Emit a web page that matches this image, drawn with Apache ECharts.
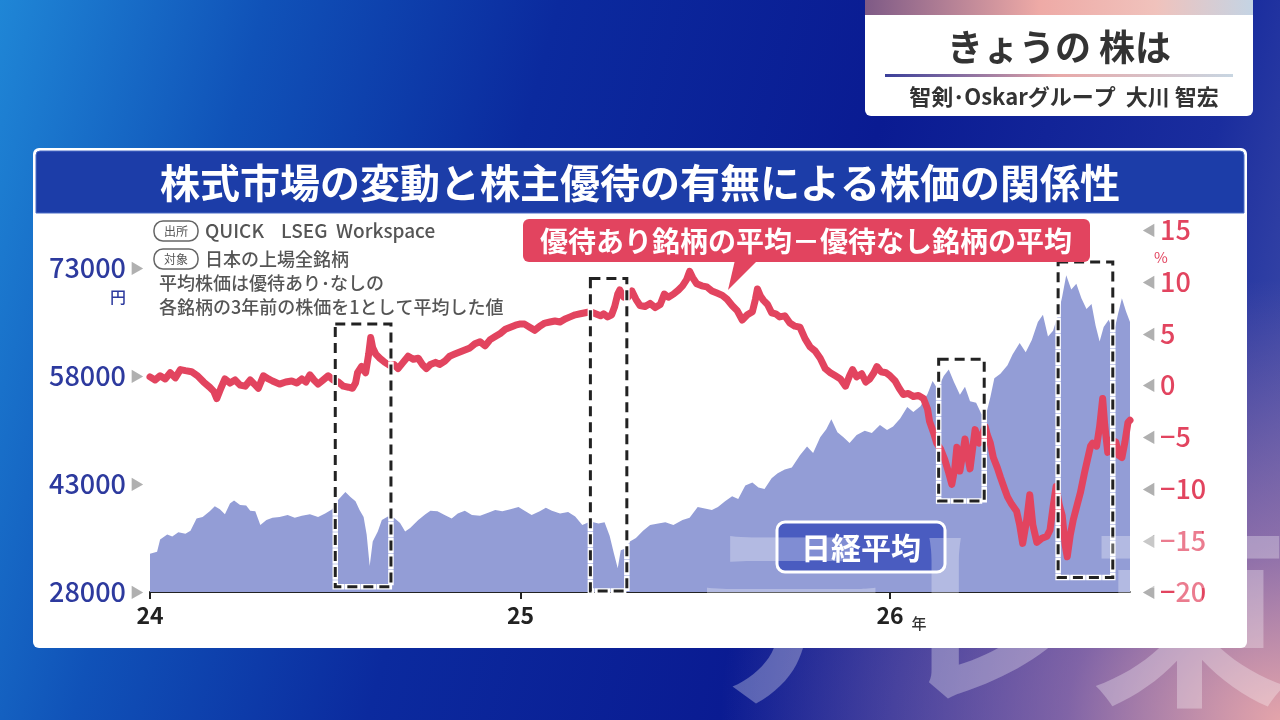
<!DOCTYPE html>
<html>
<head>
<meta charset="utf-8">
<script src="https://cdn.jsdelivr.net/npm/echarts@6/dist/echarts.min.js"></script>
<style>
html,body{margin:0;padding:0;width:1280px;height:720px;overflow:hidden;}
body{
  background:
    radial-gradient(ellipse 560px 440px at 100% 100%, rgba(236,168,170,0.95) 0%, rgba(196,136,172,0.6) 38%, rgba(120,100,185,0) 100%),
    linear-gradient(105deg, #1f86d6 0%, #1052b8 18%, #0b2a9e 38%, #0a1b92 62%, #1a2d9e 85%, #4b56ab 100%);
}
#chart{width:1280px;height:720px;}
</style>
</head>
<body>
<div id="chart"></div>
<script>
// ---- data (x = days since 2024-01-01) ----
const xTickDays = [0, 366, 731];
const xTickLabels = ['24', '25', '26'];
const leftTicks = [28000, 43000, 58000, 73000];

const nikkeiDay = [0,7,10,17,22,28,35,40,46,52,59,64,69,74,79,83,89,95,99,104,109,115,121,128,136,143,150,158,166,173,180,186,193,198,203,207,211,214,217,220,225,229,235,241,247,252,257,265,272,277,284,291,298,304,311,318,326,334,341,348,356,364,370,377,385,391,397,405,413,420,427,435,443,449,454,458,462,465,469,474,480,487,494,502,509,517,526,533,541,548,555,561,568,575,581,588,595,601,607,614,620,627,634,642,649,655,662,668,673,679,685,691,698,706,713,721,728,734,741,748,754,761,768,773,778,784,789,794,800,805,810,816,821,825,830,834,840,847,852,859,865,871,877,882,887,892,897,901,905,910,915,920,925,930,934,938,942,947,952,956,960,964,968];
const nikkeiValue = [33300,33600,35300,36000,35700,36300,36100,36500,38200,38400,39200,39900,39500,38800,40300,40700,40100,40000,39300,39200,37300,38000,38300,38400,38700,38300,38600,38800,38400,38900,39500,40800,41900,41200,40600,39400,38400,36000,31600,35000,36400,38000,38500,38300,37600,36400,36900,38000,38800,39300,39200,38700,38200,38900,39300,38700,38600,39000,39400,39200,39500,39800,39300,38700,39200,39700,39300,38900,39100,38500,37300,37800,37500,37700,35800,33500,31300,33800,34000,35000,35500,36500,37300,37500,37700,37300,38000,38300,39800,39600,39400,39800,40600,41300,40900,42800,43200,42500,42300,43800,44500,45000,45300,47000,48200,47300,49500,50600,52000,50200,49500,48700,49800,50400,50100,51200,50500,51000,52100,53700,53000,53800,55500,57300,56200,58000,58900,57200,55400,56500,54500,54300,52800,52200,55000,57700,58300,59500,61000,62600,61300,63000,65500,66500,63500,64300,66500,69000,72000,70000,70800,68800,67300,68000,65000,62800,64800,65800,64000,66500,68800,67000,65500];

const spreadDay = [0,5,10,15,20,25,30,35,41,47,53,59,63,66,70,74,79,84,89,94,99,104,107,112,117,121,128,134,140,145,150,154,158,162,166,171,176,181,186,191,196,200,203,205,209,213,216,218,220,223,227,232,237,241,245,250,255,260,265,269,273,277,282,286,291,296,301,306,311,316,321,326,331,336,341,346,351,356,361,365,370,375,380,385,390,395,400,405,410,415,420,425,430,435,440,445,448,452,456,459,462,464,468,472,476,480,484,489,494,499,504,508,512,517,522,526,530,533,536,540,545,550,555,560,565,570,575,580,585,590,595,598,600,603,606,610,614,618,622,627,632,637,642,647,652,657,662,667,672,677,682,687,691,694,698,703,707,711,715,718,722,727,731,736,740,744,749,754,759,764,768,770,774,777,781,785,789,792,795,797,800,803,805,808,810,813,815,819,822,825,827,830,833,837,840,844,847,851,856,859,862,866,869,872,876,881,886,889,892,895,898,901,904,906,909,912,916,919,923,926,929,931,935,938,941,943,946,949,954,957,960,963,966,968];
const spreadValue = [0.8,0.5,0.9,0.6,1.2,0.7,1.5,1.4,1.3,0.9,0.3,-0.2,-0.6,-1.3,-0.3,0.6,0.2,0.5,0.0,-0.1,0.5,0.0,-0.3,0.9,0.6,0.4,0.1,0.3,0.4,0.2,0.6,0.3,1.0,0.5,0.1,0.5,0.9,0.5,0.3,-0.1,-0.2,-0.3,0.2,1.2,1.8,1.2,3.0,4.6,3.6,3.0,2.6,2.2,1.9,2.0,1.6,2.2,2.8,2.5,2.6,2.0,1.6,2.0,2.2,2.0,2.3,2.8,3.0,3.2,3.4,3.6,4.0,4.2,3.8,4.4,4.7,5.0,5.4,5.6,5.8,5.9,5.9,5.6,5.3,5.7,6.0,6.1,6.2,6.1,6.4,6.6,6.8,6.9,7.0,7.1,6.9,6.7,6.9,6.6,6.8,7.6,8.8,9.2,8.5,8.5,9.1,8.3,7.7,7.6,7.9,7.5,7.8,8.8,8.5,8.8,9.2,9.6,10.2,11.0,10.4,9.8,9.6,9.5,9.1,8.9,8.7,8.3,7.7,7.2,6.3,6.8,7.1,8.3,9.3,8.6,8.2,7.8,7.0,6.9,6.6,6.7,6.0,5.7,5.6,4.5,3.7,3.3,2.6,1.6,1.2,0.9,0.6,-0.1,0.9,1.5,0.8,1.1,0.3,0.6,1.2,1.8,1.3,1.2,0.9,0.4,-0.3,-0.9,-0.8,-1.1,-1.0,-1.3,-2.3,-3.5,-4.6,-5.6,-6.2,-7.2,-8.5,-9.6,-8.0,-6.0,-8.3,-6.5,-5.2,-7.0,-8.1,-5.8,-4.3,-5.6,-4.8,-4.0,-4.8,-5.6,-7.0,-8.0,-8.9,-10.0,-10.8,-11.5,-12.2,-13.5,-15.3,-13.0,-10.6,-13.5,-15.2,-14.8,-14.6,-14.0,-11.8,-9.8,-11.5,-12.6,-15.5,-16.6,-14.5,-13.0,-11.5,-10.4,-8.5,-7.2,-5.9,-5.6,-5.9,-4.0,-1.3,-3.8,-6.5,-5.3,-5.5,-6.8,-7.0,-5.5,-3.6,-3.4];

// highlighted periods: [startDay, endDay, top %, bottom %]
const boxStart = [183, 435, 779, 897];
const boxEnd   = [238, 471, 824, 951];
const boxTop   = [5.9, 10.3, 2.5, 11.9];
const boxBottom= [-19.5, -19.9, -11.2, -18.6];

const titleText = '株式市場の変動と株主優待の有無による株価の関係性';
const headerTitle = 'きょうの 株は';
const headerSub = '智剣･Oskarグループ  大川 智宏';
const calloutText = '優待あり銘柄の平均－優待なし銘柄の平均';
const nikkeiLabel = '日経平均';
const sourceText = 'QUICK    LSEG  Workspace';
const targetText = '日本の上場全銘柄';
const noteLine1 = '平均株価は優待あり･なしの';
const noteLine2 = '各銘柄の3年前の株価を1として平均した値';
const watermarkText = 'テレ東';

const FONT = '"Noto Sans CJK JP", "Noto Sans", sans-serif';
const BLUE = '#2d3a9e';
const RED = '#e2445f';

const nikkeiData = nikkeiDay.map((d, i) => [d, nikkeiValue[i]]);
const spreadData = spreadDay.map((d, i) => [d, spreadValue[i]]);
const boxData = boxStart.map((s, i) => [s, boxEnd[i], boxTop[i], boxBottom[i]]);

function renderBox(params, api) {
  const p1 = api.coord([api.value(0), api.value(2)]);
  const p2 = api.coord([api.value(1), api.value(3)]);
  const shape = { x: p1[0], y: p1[1], width: p2[0] - p1[0], height: p2[1] - p1[1] };
  return {
    type: 'group',
    children: [
      { type: 'rect', shape: shape, style: { fill: 'none', stroke: '#ffffff', lineWidth: 5.5, lineDash: [10, 6], lineCap: 'square' } },
      { type: 'rect', shape: shape, style: { fill: 'none', stroke: '#222222', lineWidth: 3, lineDash: [10, 6] } }
    ]
  };
}

const chart = echarts.init(document.getElementById('chart'), null, { renderer: 'canvas' });

chart.setOption({
  animation: false,
  backgroundColor: 'transparent',
  textStyle: { fontFamily: FONT },
  graphic: [
    // panel
    { type: 'rect', z: -10, shape: { x: 33, y: 148, width: 1214, height: 500, r: 6 }, style: { fill: '#ffffff' } },
    { type: 'rect', z: -9, shape: { x: 36, y: 151, width: 1208, height: 62, r: [4, 4, 0, 0] }, style: { fill: '#1c3da8', stroke: '#4a6cc6', lineWidth: 1 } },
    { type: 'text', z: -8, style: { text: titleText, x: 640, y: 183, align: 'center', verticalAlign: 'middle', fill: '#ffffff', font: 'bold 40px ' + FONT } },
    // header box
    { type: 'rect', z: -10, shape: { x: 865, y: 0, width: 388, height: 116, r: [0, 0, 6, 6] }, style: { fill: '#ffffff' } },
    { type: 'rect', z: -9, shape: { x: 865, y: 0, width: 388, height: 15 }, style: { fill: new echarts.graphic.LinearGradient(0, 0, 1, 0, [{ offset: 0, color: '#7e5a86' }, { offset: 0.45, color: '#eeaaa6' }, { offset: 0.75, color: '#f0c2bc' }, { offset: 1, color: '#c4d4e4' }]) } },
    { type: 'text', style: { text: headerTitle, x: 1059, y: 47, align: 'center', verticalAlign: 'middle', fill: '#333333', font: 'bold 36px ' + FONT } },
    { type: 'rect', shape: { x: 885, y: 74, width: 348, height: 3 }, style: { fill: new echarts.graphic.LinearGradient(0, 0, 1, 0, [{ offset: 0, color: '#3a3f9a' }, { offset: 0.5, color: '#e8a8a8' }, { offset: 1, color: '#c8d6e2' }]) } },
    { type: 'text', style: { text: headerSub, x: 1064, y: 97, align: 'center', verticalAlign: 'middle', fill: '#333333', font: 'bold 22px ' + FONT } },
    // source notes
    { type: 'rect', shape: { x: 154, y: 221, width: 44, height: 20, r: 9 }, style: { fill: 'none', stroke: '#666', lineWidth: 1.5 } },
    { type: 'text', style: { text: '出所', x: 176, y: 231, align: 'center', verticalAlign: 'middle', fill: '#555', font: '12px ' + FONT } },
    { type: 'text', style: { text: sourceText, x: 205, y: 231, verticalAlign: 'middle', fill: '#555', font: '500 19px ' + FONT } },
    { type: 'rect', shape: { x: 154, y: 249, width: 44, height: 20, r: 9 }, style: { fill: 'none', stroke: '#666', lineWidth: 1.5 } },
    { type: 'text', style: { text: '対象', x: 176, y: 259, align: 'center', verticalAlign: 'middle', fill: '#555', font: '12px ' + FONT } },
    { type: 'text', style: { text: targetText, x: 205, y: 259, verticalAlign: 'middle', fill: '#555', font: '500 18px ' + FONT } },
    { type: 'text', style: { text: noteLine1, x: 159, y: 283, verticalAlign: 'middle', fill: '#555', font: '500 18px ' + FONT } },
    { type: 'text', style: { text: noteLine2, x: 159, y: 307, verticalAlign: 'middle', fill: '#555', font: '500 18px ' + FONT } },
    // unit labels
    { type: 'text', style: { text: '円', x: 118, y: 297, align: 'center', verticalAlign: 'middle', fill: BLUE, font: '500 16px ' + FONT } },
    { type: 'text', style: { text: '%', x: 1161, y: 257, align: 'center', verticalAlign: 'middle', fill: RED, font: '15px ' + FONT } },
    { type: 'text', style: { text: '年', x: 919, y: 623, align: 'center', verticalAlign: 'middle', fill: '#333', font: '500 15px ' + FONT } },
    // callout
    { type: 'rect', z: 20, shape: { x: 523, y: 219, width: 567, height: 43, r: 6 }, style: { fill: RED } },
    { type: 'polygon', z: 20, shape: { points: [[735, 260], [758, 260], [728, 290]] }, style: { fill: RED } },
    { type: 'text', z: 21, style: { text: calloutText, x: 806, y: 241, align: 'center', verticalAlign: 'middle', fill: '#ffffff', font: 'bold 28px ' + FONT } },
    // nikkei label
    { type: 'rect', z: 20, shape: { x: 777, y: 522, width: 168, height: 50, r: 8 }, style: { fill: '#4a5cc0', stroke: '#ffffff', lineWidth: 3 } },
    { type: 'text', z: 21, style: { text: nikkeiLabel, x: 861, y: 548, align: 'center', verticalAlign: 'middle', fill: '#ffffff', font: 'bold 30px ' + FONT } },
    // broadcaster watermark
    { type: 'text', z: 50, silent: true, style: { text: watermarkText, x: 690, y: 714, align: 'left', verticalAlign: 'bottom', fill: 'rgba(255,255,255,0.3)', font: 'bold 200px ' + FONT } }
  ],
  grid: { left: 150, right: 150, top: 230, bottom: 128, containLabel: false },
  xAxis: {
    type: 'value', min: 0, max: 968,
    splitLine: { show: false },
    axisLine: { show: true, onZero: false, lineStyle: { color: '#222', width: 2 } },
    axisTick: { show: true, customValues: xTickDays, length: 7, lineStyle: { color: '#222', width: 2 } },
    axisLabel: {
      customValues: xTickDays, margin: 12, color: '#222', fontSize: 23, fontWeight: 'bold', fontFamily: FONT,
      formatter: v => xTickLabels[xTickDays.indexOf(v)] || ''
    }
  },
  yAxis: [
    {
      type: 'value', min: 28000, max: 78280, position: 'left',
      splitLine: { show: false }, axisLine: { show: false }, axisTick: { show: false },
      axisLabel: {
        customValues: leftTicks, margin: 6, fontFamily: FONT,
        formatter: v => '{n|' + v + '}{t|▶}',
        rich: {
          n: { color: BLUE, fontSize: 27, fontWeight: 500, fontFamily: FONT },
          t: { color: '#b0b0b0', fontSize: 14, padding: [0, 0, 0, 4] }
        }
      }
    },
    {
      type: 'value', min: -20, max: 15, interval: 5, position: 'right',
      splitLine: { show: false }, axisLine: { show: false }, axisTick: { show: false },
      axisLabel: {
        margin: 12, fontFamily: FONT,
        formatter: v => '{t|◀}{n|' + (v < 0 ? '−' + Math.abs(v) : v) + '}',
        rich: {
          n: { color: RED, fontSize: 27, fontWeight: 500, fontFamily: FONT },
          t: { color: '#b0b0b0', fontSize: 14, padding: [0, 4, 0, 0] }
        }
      }
    }
  ],
  series: [
    {
      name: '日経平均', type: 'line', yAxisIndex: 0, data: nikkeiData,
      showSymbol: false, symbol: 'none', smooth: false,
      lineStyle: { width: 0 }, areaStyle: { color: '#939dd6', opacity: 1 },
      z: 2
    },
    {
      name: '優待あり－優待なし', type: 'line', yAxisIndex: 1, data: spreadData,
      showSymbol: false, symbol: 'none', smooth: false,
      lineStyle: { color: RED, width: 7, join: 'round', cap: 'round' },
      z: 3
    },
    {
      name: 'highlight', type: 'custom', yAxisIndex: 1, data: boxData,
      encode: { x: [0, 1], y: [2, 3] },
      renderItem: renderBox, silent: true, clip: false,
      z: 10
    }
  ]
});
</script>
</body>
</html>
